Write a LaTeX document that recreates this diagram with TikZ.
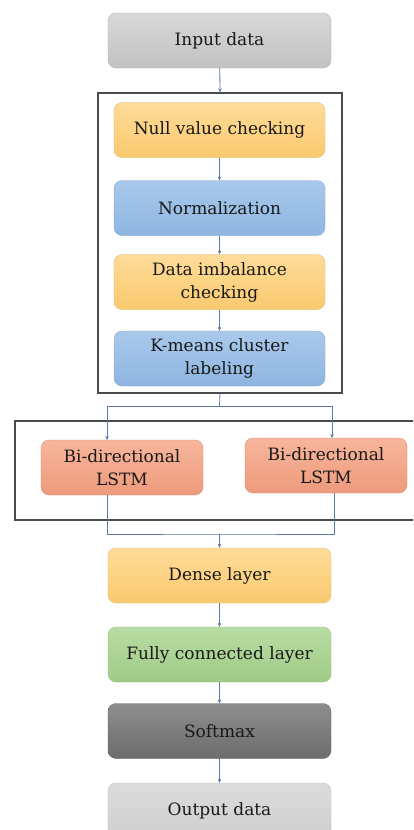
\documentclass[tikz,border=0pt]{standalone}
\usepackage{fontspec}
\setmainfont{DejaVu Serif}
\usetikzlibrary{arrows.meta}
\definecolor{arrc}{HTML}{5A79A8}
\definecolor{framec}{HTML}{4A4A4A}
\definecolor{ylwT}{HTML}{FFDC9A}
\definecolor{ylwB}{HTML}{FAC96E}
\definecolor{bluT}{HTML}{A9C9EC}
\definecolor{bluB}{HTML}{8EB5E0}
\definecolor{lstmT}{HTML}{F7B69C}
\definecolor{lstmB}{HTML}{EE9A7C}
\definecolor{grnT}{HTML}{B8DDA3}
\definecolor{grnB}{HTML}{9FCB87}
\definecolor{smT}{HTML}{8E8E8E}
\definecolor{smB}{HTML}{6C6C6C}
\definecolor{inT}{HTML}{D8D8D8}
\definecolor{inB}{HTML}{C2C2C2}
\definecolor{outT}{HTML}{DCDCDC}
\definecolor{outB}{HTML}{CFCFCF}
\tikzset{
  x=1pt, y=-1pt,
  box/.style={rounded corners=8pt, minimum width=211pt, minimum height=55pt,
    align=center, font=\fontsize{17}{23}\selectfont, text=black!90, inner sep=2pt, line width=0.3pt},
  wide/.style={box, minimum width=223pt},
  lstm/.style={box, minimum width=162pt, top color=lstmT, bottom color=lstmB, draw=lstmB!90!black},
  ylw/.style={top color=ylwT, bottom color=ylwB, draw=ylwB!90!black},
  blu/.style={top color=bluT, bottom color=bluB, draw=bluB!90!black},
  grn/.style={top color=grnT, bottom color=grnB, draw=grnB!90!black},
  frame/.style={draw=framec, line width=1.1pt},
  arr/.style={draw=arrc, line width=0.8pt, -{Stealth[length=4pt,width=3.5pt]}},
  lin/.style={draw=arrc, line width=0.8pt},
}
\begin{document}
\begin{tikzpicture}
\useasboundingbox (0,0) rectangle (413,830);
\clip (0,0) rectangle (413,830);
\fill[white] (0,0) rectangle (413,830);

\node[wide, top color=inT, bottom color=inB, draw=inB!90!black] (in) at (219.5,40.5) {Input data};

\node[frame, minimum width=244pt, minimum height=300pt, inner sep=0pt] (pre) at (220,243) {};
\node[box, ylw] (null) at (219.5,130) {Null value checking};
\node[box, blu] (norm) at (219.5,208) {Normalization};
\node[box, ylw] (imb) at (219.5,282) {Data imbalance\\checking};
\node[box, blu] (km) at (219.5,358.5) {K-means cluster\\labeling};

\node[frame, minimum width=412pt, minimum height=99pt, inner sep=0pt] (bl) at (221,470.5) {};
\node[lstm] (l1) at (122,467.5) {Bi-directional\\LSTM};
\node[lstm] (l2) at (326,465.5) {Bi-directional\\LSTM};

\node[wide, ylw] (dense) at (219.5,575.5) {Dense layer};
\node[wide, grn] (fc) at (219.5,654.5) {Fully connected layer};
\node[wide, top color=smT, bottom color=smB, draw=smB!90!black] (sm) at (219.5,731) {Softmax};
\node[wide, top color=outT, bottom color=outB, draw=outB!90!black] (out) at (219.5,810.5) {Output data};

\coordinate (split) at (219.5,406);
\coordinate (aL) at (107,440);
\coordinate (aR) at (332,438);
\coordinate (bL) at (107,495);
\coordinate (bR) at (334,493);
\coordinate (join) at (219.5,534);

\draw[arr] (in) -- (pre.north);
\draw[arr] (null) -- (norm);
\draw[arr] (norm) -- (imb);
\draw[arr] (imb) -- (km);
\draw[lin] (pre.south) -- (split);
\draw[arr] (split) -| (aL);
\draw[arr] (split) -| (aR);
\draw[lin] (bL) |- (join) -| (bR);
\draw[arr] (join) -- (dense);
\draw[arr] (dense) -- (fc);
\draw[arr] (fc) -- (sm);
\draw[arr] (sm) -- (out);
\end{tikzpicture}
\end{document}
